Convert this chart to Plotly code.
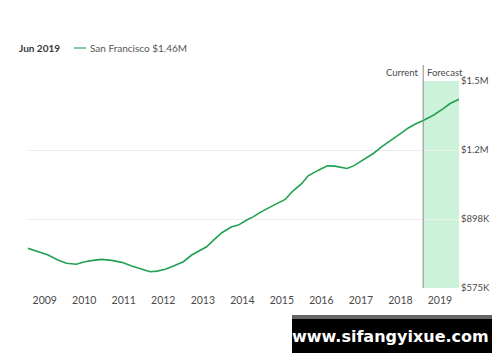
import plotly.graph_objects as go

# Data
dates = [
    "2008-07-30", "2008-11-01", "2009-02-01", "2009-05-01", "2009-07-20", "2009-10-20",
    "2010-01-05", "2010-03-25", "2010-06-10", "2010-09-10", "2010-12-15", "2011-03-15",
    "2011-06-15", "2011-09-01", "2011-11-05", "2012-01-20", "2012-04-05", "2012-07-05",
    "2012-09-20", "2012-12-05", "2013-02-05", "2013-04-10", "2013-06-25", "2013-09-25",
    "2013-11-25", "2014-02-10", "2014-04-10", "2014-06-15", "2014-08-01", "2014-10-15",
    "2015-02-01", "2015-04-15", "2015-07-05", "2015-09-01", "2015-12-05", "2016-02-25",
    "2016-05-05", "2016-08-25", "2016-10-25", "2016-12-25", "2017-02-10", "2017-04-25",
    "2017-07-10", "2017-10-30", "2018-01-01", "2018-03-15", "2018-05-15", "2018-07-30",
    "2018-11-01", "2019-02-01", "2019-04-05", "2019-06-26",
]
values = [
    760600, 744700, 729300, 706000, 690500, 685900,
    698000, 704500, 709000, 704500, 695000, 678000,
    664000, 651000, 654000, 662500, 678000, 698000,
    729300, 752700, 768000, 799400, 833600, 861600,
    869500, 893000, 908000, 929000, 943000, 961600,
    989700, 1030000, 1064400, 1100000, 1126600, 1146700,
    1145300, 1134600, 1146700, 1165400, 1178000, 1204700,
    1235500, 1277600, 1298000, 1324300, 1341600, 1358900,
    1383700, 1415000, 1438400, 1458500,
]
series_name = "San Francisco $1.46M"
legend_date = "Jun 2019"
current_date = "2018-07-30"
x_start, x_end = "2008-07-30", "2019-06-26"

year_ticks = [f"{y}-01-01" for y in range(2009, 2020)]
year_labels = [str(y) for y in range(2009, 2020)]
y_tickvals = [575000, 898000, 1221000, 1544000]
y_ticktext = ["$575K", "$898K", "$1.2M", "$1.5M"]

LINE = "#22a152"
TXT = "#4a4a4a"
FONT = "Lato, 'Open Sans', sans-serif"

# the page body has an 8px default margin, so the figure is 8px smaller
W, H = 492, 354
L, R, T, B = 20, 41, 73, 74
pw, ph = W - L - R, H - T - B
def px(xp):  # page pixel x -> paper
    return (xp - 28) / pw
def py(yp):  # page pixel y -> paper
    return (288 - yp) / ph

fig = go.Figure()
fig.add_trace(go.Scatter(x=dates, y=values, mode="lines", name=series_name,
                         line=dict(color=LINE, width=1.6), showlegend=False))

# forecast band and current marker
fig.add_shape(type="rect", xref="x", yref="paper", x0=current_date, x1=x_end, y0=0, y1=1,
              fillcolor="#cdf2da", line_width=0, layer="below")
fig.add_shape(type="line", xref="x", yref="paper", x0=current_date, x1=current_date, y0=0, y1=py(65),
              line=dict(color="#8a8a8a", width=1))
fig.add_annotation(x=current_date, y=py(72), xref="x", yref="paper", text="Current",
                   showarrow=False, xanchor="right", yanchor="middle", xshift=-2,
                   font=dict(size=9.5, color=TXT, family=FONT))
fig.add_annotation(x=current_date, y=py(72), xref="x", yref="paper", text="Forecast",
                   showarrow=False, xanchor="left", yanchor="middle", xshift=2,
                   font=dict(size=9.5, color=TXT, family=FONT))

# legend-like header
fig.add_annotation(x=px(17), y=py(48), xref="paper", yref="paper", text="<b>" + legend_date + "</b>",
                   showarrow=False, xanchor="left", yanchor="middle",
                   font=dict(size=10, color="#3a3a3a", family=FONT))
fig.add_shape(type="line", xref="paper", yref="paper", x0=px(74), x1=px(86), y0=py(48), y1=py(48),
              line=dict(color="#5fb883", width=1.5))
fig.add_annotation(x=px(88), y=py(48), xref="paper", yref="paper", text=series_name,
                   showarrow=False, xanchor="left", yanchor="middle",
                   font=dict(size=10, color="#555", family=FONT))

# watermark
fig.add_shape(type="rect", xref="paper", yref="paper", x0=px(292), x1=px(492), y0=py(319), y1=py(315),
              fillcolor="#666666", line_width=0)
fig.add_shape(type="rect", xref="paper", yref="paper", x0=px(292), x1=px(492), y0=py(353), y1=py(319),
              fillcolor="#000000", line_width=0)
fig.add_annotation(x=px(390), y=py(336), xref="paper", yref="paper", text="<b>www.sifangyixue.com</b>",
                   showarrow=False, xanchor="center", yanchor="middle",
                   font=dict(size=16, color="#ffffff", family="'DejaVu Sans', sans-serif"))

fig.update_layout(
    width=W, height=H,
    margin=dict(l=L, r=R, t=T, b=B, pad=0),
    paper_bgcolor="white", plot_bgcolor="white",
    font=dict(family=FONT, color=TXT, size=10.5),
    xaxis=dict(type="date", range=[x_start, x_end], tickvals=year_ticks, ticktext=year_labels,
               showgrid=False, zeroline=False, showline=False, ticks="",
               tickfont=dict(size=10.5, color=TXT), ticklabelstandoff=4, automargin=False),
    yaxis=dict(range=[575000, 1544000], side="right", tickvals=y_tickvals, ticktext=y_ticktext,
               showgrid=True, gridcolor="#ececec", gridwidth=1, zeroline=False, showline=False,
               ticks="", tickfont=dict(size=9.5, color=TXT), ticklabelstandoff=1, automargin=False),
)

fig.write_html("out.html")
